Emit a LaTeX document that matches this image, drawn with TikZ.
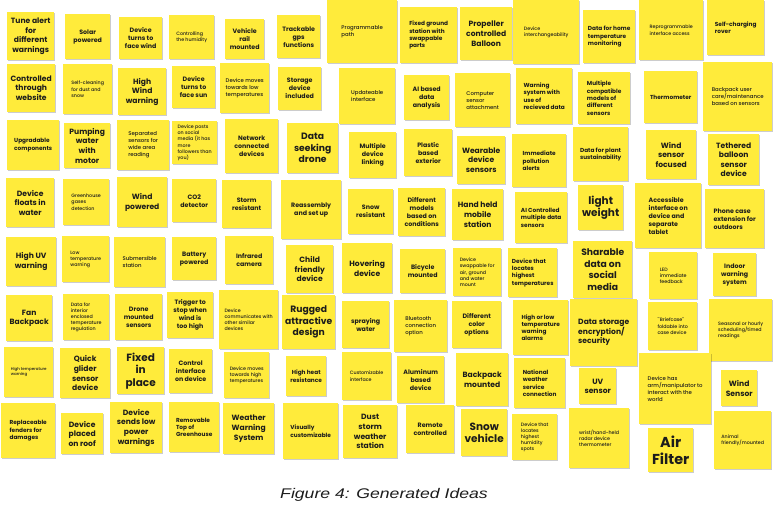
\documentclass[tikz,border=0pt]{standalone}
\usepackage{fontspec}
\setmainfont{Poppins}
\newfontfamily\medfont{Poppins Medium}
\newfontfamily\capfont{Liberation Sans}
\usetikzlibrary{shadows}
\definecolor{stickyyellow}{RGB}{255,235,59}
\definecolor{inkgrey}{RGB}{28,28,28}
\tikzset{
 note/.style 2 args={anchor=north west, fill=stickyyellow, draw=none,
   minimum width=#1pt, minimum height=#2pt, inner sep=1pt, text=inkgrey,
   align=center,
   drop shadow={shadow xshift=0.3pt, shadow yshift=-1.1pt, fill=black, opacity=.2}},
 tTiny/.style={font=\medfont\fontsize{4}{5}\selectfont},
 tXS/.style={font=\medfont\fontsize{4.8}{6.2}\selectfont, align=left},
 tSM/.style={font=\medfont\fontsize{5.4}{7}\selectfont, align=left},
 tSMB/.style={font=\fontsize{5.8}{7.3}\selectfont\bfseries, align=left},
 tMD/.style={font=\fontsize{6.3}{8}\selectfont\bfseries},
 tLG/.style={font=\fontsize{7.6}{9.6}\selectfont\bfseries},
 tXL/.style={font=\fontsize{9.2}{11.4}\selectfont\bfseries},
 tXXL/.style={font=\fontsize{10.5}{12.5}\selectfont\bfseries},
 tHuge/.style={font=\fontsize{14.4}{16.5}\selectfont\bfseries}
}

\begin{document}
\begin{tikzpicture}[x=1pt,y=-1pt]
\useasboundingbox[fill=white] (0,0) rectangle (778,507);

% row 1
\path (7,12) node[note={47}{48},tLG,name=tune] {Tune alert\\for\\different\\warnings};
\path (65,14) node[note={45}{45},tMD,name=solar] {Solar\\powered};
\path (119,17) node[note={43}{42},tMD,name=facewind] {Device\\turns to\\face wind};
\path (169,15) node[note={45}{44},tXS,name=humidity] {Controlling\\the humidity};
\path (225,19) node[note={39}{40},tMD,name=rail] {Vehicle\\rail\\mounted};
\path (277,15) node[note={43}{43},tMD,name=gps] {Trackable\\gps\\functions};
\path (327,0) node[note={70}{63},tSM,name=path] {Programmable\\path};
\path (400,7) node[note={57}{56},tSMB,name=ground] {Fixed ground\\station with\\swappable\\parts};
\path (460,7) node[note={52}{53},tLG,name=balloon] {Propeller\\controlled\\Balloon};
\path (513,0) node[note={66}{64},tXS,name=interch] {Device\\interchangeability};
\path (583,10) node[note={52}{53},tSMB,name=hometemp] {Data for home\\temperature\\monitoring};
\path (639,0) node[note={64}{60},tXS,name=reprog] {Reprogrammable\\interface access};
\path (707,0) node[note={57}{55},tSMB,name=rover] {Self-charging\\rover};

% row 2
\path (7,64) node[note={48}{48},tLG,name=website] {Controlled\\through\\website};
\path (63,64) node[note={49}{50},tXS,name=cleaning] {Self-cleaning\\for dust and\\snow};
\path (118,68) node[note={48}{47},tLG,name=highwind] {High\\Wind\\warning};
\path (172,66) node[note={43}{42},tMD,name=facesun] {Device\\turns to\\face sun};
\path (220,63) node[note={49}{50},tSM,name=lowtemp] {Device moves\\towards low\\temperatures};
\path (278,67) node[note={43}{43},tMD,name=storage] {Storage\\device\\included};
\path (339,68) node[note={56}{56},tSM,name=update] {Updateable\\interface};
\path (404,75) node[note={45}{45},tMD,name=aidata] {AI based\\data\\analysis};
\path (455,73) node[note={55}{54},tSM,name=computer] {Computer\\sensor\\attachment};
\path (516,68) node[note={56}{56},tSMB,name=warnsys] {Warning\\system with\\use of\\recieved data};
\path (578,72) node[note={52}{52},tSMB,name=compat] {Multiple\\compatible\\models of\\different\\sensors};
\path (644,71) node[note={53}{52},tSMB,name=thermo] {Thermometer};
\path (703,62) node[note={69}{69},tSM,name=backcare] {Backpack user\\care/maintenance\\based on sensors};

% row 3
\path (7,120) node[note={52}{50},tSMB,name=upgrade] {Upgradable\\components};
\path (64,123) node[note={46}{45},tLG,name=pumping] {Pumping\\water\\with\\motor};
\path (117,120) node[note={52}{50},tSM,name=separated] {Separated\\sensors for\\wide area\\reading};
\path (172,121) node[note={45}{43},tXS,name=posts] {Device posts\\on social\\media (it has\\more\\followers than\\you)};
\path (225,119) node[note={53}{54},tMD,name=network] {Network\\connected\\devices};
\path (287,123) node[note={51}{50},tXL,name=drone] {Data\\seeking\\drone};
\path (349,132) node[note={47}{46},tMD,name=linking] {Multiple\\device\\linking};
\path (404,129) node[note={48}{47},tMD,name=plastic] {Plastic\\based\\exterior};
\path (457,136) node[note={48}{48},tLG,name=wearable] {Wearable\\device\\sensors};
\path (512,134) node[note={54}{53},tSMB,name=pollution] {Immediate\\pollution\\alerts};
\path (573,127) node[note={55}{54},tSMB,name=plant] {Data for plant\\sustainability};
\path (646,130) node[note={50}{49},tLG,name=windfocus] {Wind\\sensor\\focused};
\path (708,134) node[note={51}{51},tLG,name=tethered] {Tethered\\balloon\\sensor\\device};

% row 4
\path (6,178) node[note={48}{49},tLG,name=floats] {Device\\floats in\\water};
\path (63,179) node[note={46}{46},tXS,name=greenhouse] {Greenhouse\\gases\\detection};
\path (117,177) node[note={50}{50},tLG,name=windpow] {Wind\\powered};
\path (172,179) node[note={44}{43},tMD,name=cotwo] {CO2\\detector};
\path (222,180) node[note={49}{48},tMD,name=storm] {Storm\\resistant};
\path (281,180) node[note={60}{59},tMD,name=reassembly] {Reassembly\\and set up};
\path (348,189) node[note={45}{45},tMD,name=snowres] {Snow\\resistant};
\path (398,188) node[note={47}{48},tMD,name=models] {Different\\models\\based on\\conditions};
\path (452,189) node[note={51}{51},tLG,name=handheld] {Hand held\\mobile\\station};
\path (515,192) node[note={52}{51},tSMB,name=aictrl] {AI Controlled\\multiple data\\sensors};
\path (578,185) node[note={45}{45},tXXL,name=light] {light\\weight};
\path (635,183) node[note={66}{65},tMD,align=left,name=accessible] {Accessible\\interface on\\device and\\separate\\tablet};
\path (705,189) node[note={59}{59},tMD,align=left,name=phonecase] {Phone case\\extension for\\outdoors};

% row 5
\path (6,237) node[note={50}{49},tLG,name=uvwarn] {High UV\\warning};
\path (62,236) node[note={47}{46},tXS,name=lowwarn] {Low\\temperature\\warning};
\path (114,237) node[note={51}{50},tSM,name=submersible] {Submersible\\station};
\path (172,237) node[note={44}{43},tMD,name=battery] {Battery\\powered};
\path (225,236) node[note={48}{48},tMD,name=infrared] {Infrared\\camera};
\path (286,245) node[note={47}{48},tLG,name=child] {Child\\friendly\\device};
\path (342,243) node[note={50}{50},tLG,name=hovering] {Hovering\\device};
\path (400,249) node[note={45}{44},tMD,name=bicycle] {Bicycle\\mounted};
\path (453,248) node[note={48}{48},tXS,name=swappable] {Device\\swappable for\\air, ground\\and water\\mount};
\path (508,248) node[note={49}{49},tSMB,name=locatetemp] {Device that\\locates\\highest\\temperatures};
\path (573,241) node[note={59}{57},tXL,name=sharable] {Sharable\\data on\\social\\media};
\path (649,252) node[note={48}{47},tXS,name=led] {LED\\immediate\\feedback};
\path (713,253) node[note={43}{43},tMD,name=indoor] {Indoor\\warning\\system};

% row 6
\path (6,295) node[note={46}{46},tLG,name=fan] {Fan\\Backpack};
\path (63,294) node[note={46}{46},tXS,name=interior] {Data for\\interior\\enclosed\\temperature\\regulation};
\path (115,294) node[note={47}{46},tMD,name=dronemount] {Drone\\mounted\\sensors};
\path (167,292) node[note={46}{46},tMD,name=trigger] {Trigger to\\stop when\\wind is\\too high};
\path (219,290) node[note={59}{59},tXS,name=communicates] {Device\\communicates with\\other similar\\devices};
\path (282,295) node[note={53}{54},tXL,name=rugged] {Rugged\\attractive\\design};
\path (342,301) node[note={47}{47},tMD,name=spraying] {spraying\\water};
\path (394,300) node[note={53}{52},tSM,name=bluetooth] {Bluetooth\\connection\\option};
\path (452,301) node[note={49}{47},tMD,name=colors] {Different\\color\\options};
\path (513,300) node[note={55}{55},tSMB,name=alarms] {High or low\\temperature\\warning\\alarms};
\path (570,299) node[note={67}{67},tLG,align=left,name=encryption] {Data storage\\encryption/\\security};
\path (648,302) node[note={49}{48},tXS,name=briefcase] {``Briefcase''\\foldable into\\case device};
\path (709,299) node[note={63}{62},tXS,name=seasonal] {Seasonal or hourly\\scheduling/timed\\readings};

% row 7
\path (4,347) node[note={49}{50},tTiny,align=left,name=hightemp] {High temperature\\warning};
\path (60,348) node[note={50}{50},tLG,name=glider] {Quick\\glider\\sensor\\device};
\path (117,347) node[note={47}{47},tXXL,name=fixed] {Fixed\\in\\place};
\path (169,349) node[note={43}{44},tMD,name=control] {Control\\interface\\on device};
\path (224,352) node[note={45}{46},tXS,name=hightemps] {Device moves\\towards high\\temperatures};
\path (286,356) node[note={40}{40},tSMB,align=center,name=heat] {High heat\\resistance};
\path (342,352) node[note={49}{48},tXS,name=customiz] {Customizable\\interface};
\path (397,356) node[note={47}{47},tMD,name=aluminum] {Aluminum\\based\\device};
\path (456,353) node[note={52}{53},tLG,name=backmount] {Backpack\\mounted};
\path (514,358) node[note={51}{50},tSMB,name=national] {National\\weather\\service\\connection};
\path (579,368) node[note={37}{36},tLG,name=uvsensor] {UV\\sensor};
\path (639,353) node[note={72}{71},tSM,name=arm] {Device has\\arm/manipulator to\\interact with the\\world};
\path (721,370) node[note={36}{36},tLG,name=windsensor] {Wind\\Sensor};

% row 8
\path (1,403) node[note={54}{55},tSMB,name=fenders] {Replaceable\\fenders for\\damages};
\path (61,413) node[note={42}{41},tLG,name=roof] {Device\\placed\\on roof};
\path (110,402) node[note={52}{51},tLG,name=lowpower] {Device\\sends low\\power\\warnings};
\path (169,402) node[note={50}{50},tSMB,name=removable] {Removable\\Top of\\Greenhouse};
\path (223,403) node[note={51}{51},tLG,name=weather] {Weather\\Warning\\System};
\path (283,403) node[note={55}{56},tSMB,name=visually] {Visually\\customizable};
\path (343,405) node[note={54}{53},tLG,name=dust] {Dust\\storm\\weather\\station};
\path (406,405) node[note={48}{48},tMD,name=remote] {Remote\\controlled};
\path (461,409) node[note={46}{47},tXXL,name=snowveh] {Snow\\vehicle};
\path (512,414) node[note={45}{46},tXS,name=humspots] {Device that\\locates\\highest\\humidity\\spots};
\path (569,408) node[note={60}{60},tXS,name=wrist] {wrist/hand-held\\radar device\\thermometer};
\path (648,428) node[note={45}{44},tHuge,name=air] {Air\\Filter};
\path (714,411) node[note={57}{58},tXS,name=animal] {Animal\\friendly/mounted};

\path (384,495) node[font=\capfont\itshape\fontsize{14}{16}\selectfont,text=inkgrey,name=caption] {\scalebox{1.26}[1]{Figure 4: Generated Ideas}};
\end{tikzpicture}
\end{document}
